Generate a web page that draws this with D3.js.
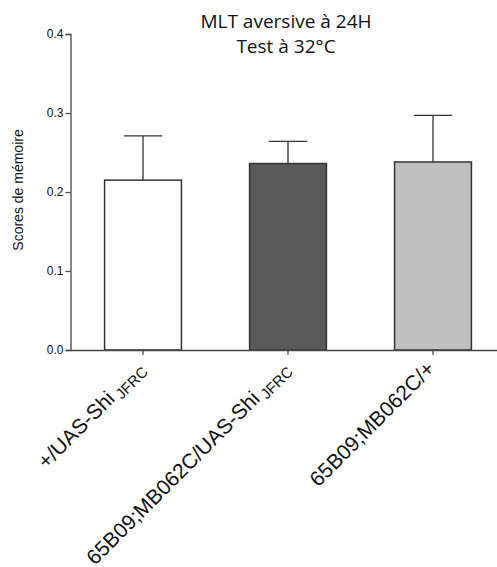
<!DOCTYPE html>
<html><head><meta charset="utf-8">
<script src="https://cdn.jsdelivr.net/npm/d3@7"></script>
<style>body{margin:0;background:#fff}</style>
</head><body>
<script>
const categories = ["+/UAS-Shi|JFRC", "65B09;MB062C/UAS-Shi|JFRC", "65B09;MB062C/+"];
const means = [0.215, 0.236, 0.238];
const errors = [0.056, 0.028, 0.059];
const fills = ["#ffffff", "#5a5a5a", "#c0c0c0"];
const yTicks = [0.0, 0.1, 0.2, 0.3, 0.4];
const titleLines = ["MLT aversive à 24H", "Test à 32°C"];
const yLabel = "Scores de mémoire";

const W = 497, H = 567;
const svg = d3.select("body").append("svg").attr("width", W).attr("height", H);
const x0 = 70.5, y0 = 350;
const x = d3.scaleBand().domain(categories).range([x0, x0 + 435]).paddingInner(0.47).paddingOuter(0.235);
const y = d3.scaleLinear().domain([0, 0.4]).range([y0, 34]);

// bars
svg.selectAll("rect.bar").data(categories).enter().append("rect")
  .attr("x", d => x(d)).attr("width", x.bandwidth())
  .attr("y", (d, i) => y(means[i])).attr("height", (d, i) => y0 - y(means[i]))
  .attr("fill", (d, i) => fills[i]).attr("stroke", "#333").attr("stroke-width", 1.5);

// error bars
categories.forEach((c, i) => {
  const cx = x(c) + x.bandwidth() / 2;
  svg.append("line").attr("x1", cx).attr("x2", cx).attr("y1", y(means[i])).attr("y2", y(means[i] + errors[i]))
    .attr("stroke", "#333").attr("stroke-width", 1.3);
  svg.append("line").attr("x1", cx - x.bandwidth() / 4).attr("x2", cx + x.bandwidth() / 4)
    .attr("y1", y(means[i] + errors[i])).attr("y2", y(means[i] + errors[i]))
    .attr("stroke", "#333").attr("stroke-width", 1.3);
});

// y axis
const ya = svg.append("g").attr("transform", `translate(${x0},0)`)
  .call(d3.axisLeft(y).tickValues(yTicks).tickFormat(d3.format(".1f")).tickSize(5).tickPadding(2));
ya.select(".domain").attr("stroke", "#444").attr("stroke-width", 1.3);
ya.selectAll(".tick line").attr("stroke", "#444").attr("stroke-width", 1.2);
ya.selectAll(".tick text").attr("font-family", "Liberation Sans, Arial, sans-serif").attr("font-size", 12).attr("fill", "#111");

// x axis
const xa = svg.append("g").attr("transform", `translate(0,${y0})`)
  .call(d3.axisBottom(x).tickSize(5).tickSizeOuter(0).tickFormat(""));
xa.select(".domain").attr("stroke", "#444").attr("stroke-width", 1.3);
xa.selectAll(".tick line").attr("stroke", "#444").attr("stroke-width", 1.2);

// x labels
categories.forEach(c => {
  const [main, sub] = c.split("|");
  const cx = x(c) + x.bandwidth() / 2;
  const t = svg.append("text")
    .attr("transform", `translate(${cx + 3},${y0 + 20}) rotate(-45)`)
    .attr("text-anchor", "end")
    .attr("font-family", "Liberation Sans, Arial, sans-serif").attr("font-size", 21).attr("fill", "#111");
  t.append("tspan").text(main);
  if (sub) t.append("tspan").attr("font-size", 15).attr("dy", 4).text(" " + sub);
});

// y label
svg.append("text").attr("transform", "translate(23,190) rotate(-90)")
  .attr("text-anchor", "middle").attr("font-family", "Liberation Sans, Arial, sans-serif")
  .attr("font-size", 14).attr("fill", "#111").text(yLabel);

// title
titleLines.forEach((l, i) => {
  svg.append("text").attr("x", 286).attr("y", 28 + i * 25).attr("text-anchor", "middle")
    .attr("font-family", "Open Sans, sans-serif").attr("font-size", 19).attr("fill", "#111").text(l);
});
</script>
</body></html>
